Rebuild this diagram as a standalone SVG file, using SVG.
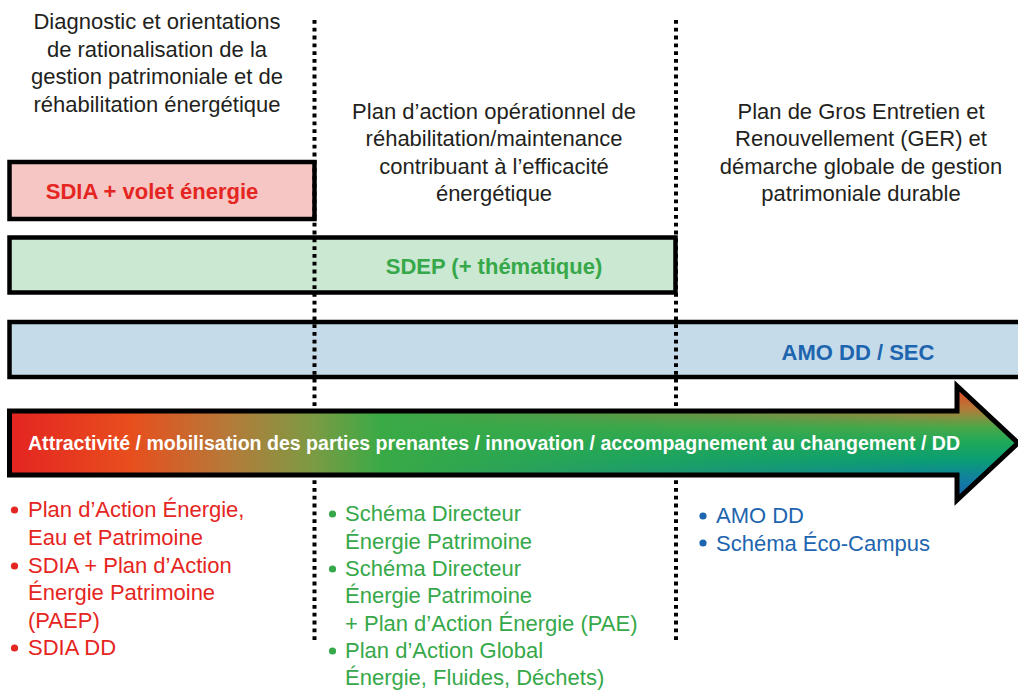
<svg xmlns="http://www.w3.org/2000/svg" width="1018" height="690" viewBox="0 0 1018 690">
<defs>
<style>
.hd{font-family:"Liberation Sans",Arial,sans-serif;font-size:22px;fill:#231f20;text-anchor:middle}
.lb{font-family:"Liberation Sans",Arial,sans-serif;font-size:22px;font-weight:bold;text-anchor:middle}
.li{font-family:"Liberation Sans",Arial,sans-serif;font-size:22px}
.bar{stroke:#000;stroke-width:4.5}
.dot{stroke:#000;stroke-width:4;stroke-dasharray:3.8 4;fill:none}
.red{fill:#e52521}
.grn{fill:#36a849}
.blu{fill:#1d65ae}
</style>
<linearGradient id="gh" gradientUnits="userSpaceOnUse" x1="9" y1="0" x2="1016" y2="0">
<stop offset="0" stop-color="#e42421"/>
<stop offset="0.12" stop-color="#e84e1d"/>
<stop offset="0.22" stop-color="#b47b3a"/>
<stop offset="0.3" stop-color="#7d9a43"/>
<stop offset="0.37" stop-color="#3aaa46"/>
<stop offset="1" stop-color="#1ea65a"/>
</linearGradient>
<linearGradient id="gv" gradientUnits="userSpaceOnUse" x1="0" y1="387" x2="0" y2="499">
<stop offset="0" stop-color="#ea4424"/>
<stop offset="0.2" stop-color="#b27c3a"/>
<stop offset="0.36" stop-color="#4aa848"/>
<stop offset="0.5" stop-color="#1da85a"/>
<stop offset="0.66" stop-color="#0b9c76"/>
<stop offset="0.82" stop-color="#1280a0"/>
<stop offset="1" stop-color="#1762b2"/>
</linearGradient>
<linearGradient id="gm" gradientUnits="userSpaceOnUse" x1="380" y1="0" x2="950" y2="0">
<stop offset="0" stop-color="#fff" stop-opacity="0"/>
<stop offset="1" stop-color="#fff" stop-opacity="1"/>
</linearGradient>
<mask id="mk" maskUnits="userSpaceOnUse" x="0" y="370" width="1018" height="150">
<rect x="0" y="370" width="1018" height="150" fill="url(#gm)"/>
</mask>
</defs>

<g id="headers">
<text class="hd"><tspan x="157" y="29">Diagnostic et orientations</tspan><tspan x="157" y="56.5">de rationalisation de la</tspan><tspan x="157" y="84">gestion patrimoniale et de</tspan><tspan x="157" y="111.5">réhabilitation énergétique</tspan></text>
<text class="hd"><tspan x="494" y="118.5">Plan d’action opérationnel de</tspan><tspan x="494" y="146">réhabilitation/maintenance</tspan><tspan x="494" y="173.5">contribuant à l’efficacité</tspan><tspan x="494" y="201">énergétique</tspan></text>
<text class="hd"><tspan x="861" y="118.5">Plan de Gros Entretien et</tspan><tspan x="861" y="146">Renouvellement (GER) et</tspan><tspan x="861" y="173.5">démarche globale de gestion</tspan><tspan x="861" y="201">patrimoniale durable</tspan></text>
</g>

<g id="sdia">
<rect class="bar" x="9.5" y="162" width="305" height="57" fill="#f6c6c4"/>
<text class="lb red" x="152" y="198.5">SDIA + volet énergie</text>
</g>
<g id="sdep">
<rect class="bar" x="9.5" y="237.5" width="666" height="55" fill="#cae8d2"/>
<text class="lb grn" x="494" y="274">SDEP (+ thématique)</text>
</g>
<g id="amo">
<rect class="bar" x="9.5" y="322" width="1020" height="55" fill="#c6dbea"/>
<text class="lb blu" x="858" y="360">AMO DD / SEC</text>
</g>

<g id="connectors">
<line class="dot" x1="314.5" y1="20" x2="314.5" y2="640"/>
<line class="dot" x1="676" y1="20" x2="676" y2="640"/>
</g>

<g id="arrow">
<polygon points="9.5,411 957,411 957,386 1018,443 957,500 957,475 9.5,475" fill="url(#gh)"/>
<polygon points="9.5,411 957,411 957,386 1018,443 957,500 957,475 9.5,475" fill="url(#gv)" mask="url(#mk)"/>
<polygon points="9.5,411 957,411 957,386 1018,443 957,500 957,475 9.5,475" fill="none" stroke="#000" stroke-width="5" stroke-linejoin="miter"/>
<text x="28" y="449.5" font-family="Liberation Sans, Arial, sans-serif" font-size="19.5" font-weight="bold" fill="#fff" textLength="932" lengthAdjust="spacingAndGlyphs">Attractivité / mobilisation des parties prenantes / innovation / accompagnement au changement / DD</text>
</g>

<g id="list-red" class="red">
<circle cx="14.5" cy="510" r="3.6"/>
<circle cx="14.5" cy="566" r="3.6"/>
<circle cx="14.5" cy="648" r="3.6"/>
<text class="li red"><tspan x="28" y="517">Plan d’Action Énergie,</tspan><tspan x="28" y="544.5">Eau et Patrimoine</tspan><tspan x="28" y="572.5">SDIA + Plan d’Action</tspan><tspan x="28" y="600">Énergie Patrimoine</tspan><tspan x="28" y="627.5">(PAEP)</tspan><tspan x="28" y="655">SDIA DD</tspan></text>
</g>

<g id="list-green" class="grn">
<circle cx="332.5" cy="514" r="3.6"/>
<circle cx="332.5" cy="569" r="3.6"/>
<circle cx="332.5" cy="651" r="3.6"/>
<text class="li grn"><tspan x="345" y="521">Schéma Directeur</tspan><tspan x="345" y="548.5">Énergie Patrimoine</tspan><tspan x="345" y="576">Schéma Directeur</tspan><tspan x="345" y="603">Énergie Patrimoine</tspan><tspan x="345" y="630.5">+ Plan d’Action Énergie (PAE)</tspan><tspan x="345" y="658">Plan d’Action Global</tspan><tspan x="345" y="685">Énergie, Fluides, Déchets)</tspan></text>
</g>

<g id="list-blue" class="blu">
<circle cx="703" cy="516" r="3.6"/>
<circle cx="703" cy="543" r="3.6"/>
<text class="li blu"><tspan x="716" y="523">AMO DD</tspan><tspan x="716" y="550.5">Schéma Éco-Campus</tspan></text>
</g>
</svg>
